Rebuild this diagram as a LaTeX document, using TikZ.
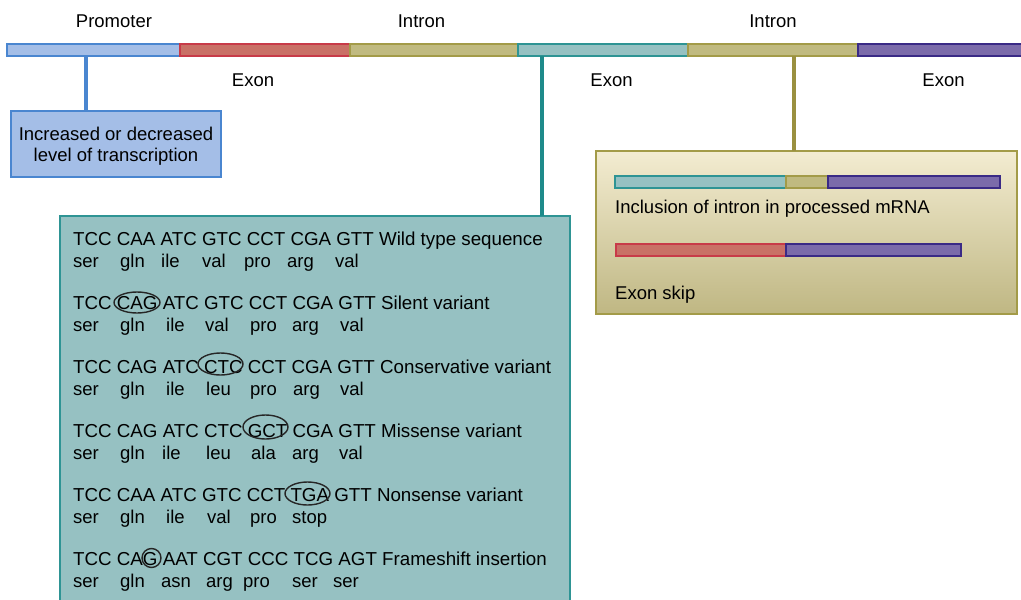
\documentclass[tikz,border=0pt]{standalone}
\usepackage{fontspec}
\setmainfont{Liberation Sans}
\definecolor{promfill}{HTML}{A4BEE7}
\definecolor{promline}{HTML}{4A86D0}
\definecolor{redfill}{HTML}{C97066}
\definecolor{redline}{HTML}{C83A48}
\definecolor{khfill}{HTML}{C0BA80}
\definecolor{khline}{HTML}{A39B48}
\definecolor{khconn}{HTML}{9A9040}
\definecolor{tealfill}{HTML}{96C1C2}
\definecolor{tealline}{HTML}{2E9494}
\definecolor{tealconn}{HTML}{1E8A8A}
\definecolor{purfill}{HTML}{7B6BAA}
\definecolor{purline}{HTML}{3A2A86}
\definecolor{boxtop}{HTML}{F3ECD1}
\definecolor{boxbot}{HTML}{BFB783}
\tikzset{
  txt/.style={inner sep=0pt, font=\fontsize{18.5}{22}\selectfont, text=black},
  lab/.style={txt, anchor=base},
  seqt/.style={txt, anchor=base west},
  seqw/.style={seqt, font=\fontsize{18.75}{22}\selectfont},
  seg/.style={line width=1.3pt},
  conn/.style={line width=3.3pt},
  ringmark/.style={draw=black!85, line width=1.4pt},
}
\begin{document}
\begin{tikzpicture}[x=1pt,y=-1pt]
\useasboundingbox (0,0) rectangle (1021,600);
% main bar
\draw[seg, fill=promfill, draw=promline] (7,44) rectangle (180,56);
\draw[seg, fill=redfill, draw=redline] (180,44) rectangle (350,56);
\draw[seg, fill=khfill, draw=khline] (350,44) rectangle (518,56);
\draw[seg, fill=tealfill, draw=tealline] (518,44) rectangle (688,56);
\draw[seg, fill=khfill, draw=khline] (688,44) rectangle (858,56);
\draw[seg, fill=purfill, draw=purline] (858,44) rectangle (1030,56);
% labels
\node[lab] (lprom) at (114,27) {Promoter};
\node[lab] (lint1) at (421.5,27) {Intron};
\node[lab] (lint2) at (773,27) {Intron};
\node[lab] (lex1) at (253,86) {Exon};
\node[lab] (lex2) at (611.5,86) {Exon};
\node[lab] (lex3) at (943.5,86) {Exon};
% promoter box
\node[draw=promline, fill=promfill, line width=2pt, minimum width=210pt, minimum height=66pt, inner sep=0pt] (pbox) at (116,144) {};
\node[lab] (pt1) at (116,140) {Increased or decreased};
\node[lab] (pt2) at (116,161) {level of transcription};
\coordinate (pc) at (86,56);
\draw[conn, promline] (pc) -- (pc |- pbox.north);
% teal box
\draw[fill=tealfill, draw=tealline, line width=1.5pt] (60,216) rectangle (570,612);
\node[inner sep=0pt, minimum size=0pt] (tbox) at (542,216) {};
\coordinate (tc) at (542,56);
\draw[conn, tealconn] (tc) -- (tbox);
% khaki box
\draw[top color=boxtop, bottom color=boxbot, draw=khline, line width=1.5pt] (596,151) rectangle (1017,314);
\node[inner sep=0pt, minimum size=0pt] (kbox) at (794,151) {};
\coordinate (kc) at (794,56);
\draw[conn, khconn] (kc) -- (kbox);
% inner bars
\draw[seg, fill=tealfill, draw=tealline] (615,176) rectangle (786,188);
\draw[seg, fill=khfill, draw=khline] (786,176) rectangle (828,188);
\draw[seg, fill=purfill, draw=purline] (828,176) rectangle (1000,188);
\node[seqt] (incl) at (615,213) {Inclusion of intron in processed mRNA};
\draw[seg, fill=redfill, draw=redline] (616,244) rectangle (786,256);
\draw[seg, fill=purfill, draw=purline] (786,244) rectangle (961,256);
\node[seqt] (skip) at (615,299) {Exon skip};
% sequences
\node[seqw] (s1) at (73,245) {TCC CAA ATC GTC CCT CGA GTT Wild type sequence};
\node[seqw] (s2) at (73,309) {TCC CAG ATC GTC CCT CGA GTT Silent variant};
\node[seqw] (s3) at (73,373) {TCC CAG ATC CTC CCT CGA GTT Conservative variant};
\node[seqw] (s4) at (73,437) {TCC CAG ATC CTC GCT CGA GTT Missense variant};
\node[seqw] (s5) at (73,501) {TCC CAA ATC GTC CCT TGA GTT Nonsense variant};
\node[seqw] (s6) at (73,565) {TCC CAG AAT CGT CCC TCG AGT Frameshift insertion};
% amino acids
\foreach \n/\x/\t in {a/73/ser, b/120/gln, c/161/ile, d/202/val, e/244/pro, f/287/arg, g/335/val}
  \node[seqt] (r1\n) at (\x,267) {\t};
\foreach \n/\x/\t in {a/73/ser, b/120/gln, c/166/ile, d/205/val, e/250/pro, f/292/arg, g/340/val}
  \node[seqt] (r2\n) at (\x,331) {\t};
\foreach \n/\x/\t in {a/73/ser, b/120/gln, c/166/ile, d/206/leu, e/250/pro, f/293/arg, g/340/val}
  \node[seqt] (r3\n) at (\x,395) {\t};
\foreach \n/\x/\t in {a/73/ser, b/120/gln, c/162/ile, d/206/leu, e/251/ala, f/292/arg, g/339/val}
  \node[seqt] (r4\n) at (\x,459) {\t};
\foreach \n/\x/\t in {a/73/ser, b/120/gln, c/166/ile, d/207/val, e/250/pro, f/292/stop}
  \node[seqt] (r5\n) at (\x,523) {\t};
\foreach \n/\x/\t in {a/73/ser, b/120/gln, c/161/asn, d/206/arg, e/243/pro, f/292/ser, g/333/ser}
  \node[seqt] (r6\n) at (\x,587) {\t};
% marks
\draw[ringmark] (137,302.5) ellipse [x radius=23, y radius=10.5];
\draw[ringmark] (220.5,364) ellipse [x radius=22.5, y radius=11];
\draw[ringmark] (265.5,427) ellipse [x radius=22.5, y radius=12];
\draw[ringmark] (307.5,493.5) ellipse [x radius=22.5, y radius=11.5];
\draw[ringmark] (151.5,558) circle [radius=9.5];
\end{tikzpicture}
\end{document}
